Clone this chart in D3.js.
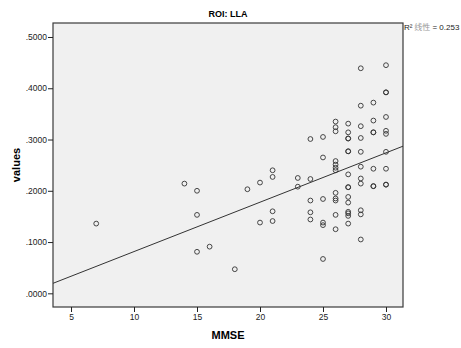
<!DOCTYPE html>
<html lang="zh">
<head>
    <meta charset="UTF-8">
    <title>ROI: LLA</title>
    <script src="https://cdn.jsdelivr.net/npm/d3@7/dist/d3.min.js"></script>
    <style>
        body { margin: 0; background: #fff; }
        text { font-family: "Liberation Sans", Arial, sans-serif; }
    </style>
</head>
<body>
    <div class="scatter"></div>
<script>
    // MMSE score of every subject, and its value (same order)
    const mmse = [
        7,
        14,
        15, 15, 15,
        16,
        18,
        19,
        20, 20,
        21, 21, 21, 21,
        23, 23,
        24, 24, 24, 24, 24,
        25, 25, 25, 25, 25, 25,
        26, 26, 26, 26, 26, 26, 26, 26, 26, 26, 26, 26,
        27, 27, 27, 27, 27, 27, 27, 27, 27, 27, 27, 27, 27, 27, 27,
        28, 28, 28, 28, 28, 28, 28, 28, 28, 28, 28,
        29, 29, 29, 29, 29, 29, 29,
        30, 30, 30, 30, 30, 30, 30, 30, 30, 30
    ]
    const values = [
        0.136,
        0.214,
        0.200, 0.153, 0.081,
        0.091,
        0.047,
        0.203,
        0.216, 0.138,
        0.240, 0.227, 0.160, 0.141,
        0.225, 0.208,
        0.301, 0.223, 0.181, 0.158, 0.144,
        0.305, 0.265, 0.184, 0.138, 0.133, 0.067,
        0.335, 0.324, 0.316, 0.258, 0.251, 0.245, 0.240, 0.196, 0.185, 0.181, 0.153, 0.125,
        0.331, 0.314, 0.302, 0.302, 0.277, 0.277, 0.232, 0.207, 0.207, 0.188, 0.177, 0.159, 0.156, 0.151, 0.136,
        0.439, 0.366, 0.326, 0.303, 0.276, 0.247, 0.224, 0.214, 0.162, 0.154, 0.105,
        0.372, 0.337, 0.314, 0.314, 0.243, 0.209, 0.209,
        0.445, 0.392, 0.392, 0.344, 0.317, 0.311, 0.276, 0.243, 0.212, 0.212
    ]
    const xTicks = [5, 10, 15, 20, 25, 30]
    const yTicks = [0, 0.1, 0.2, 0.3, 0.4, 0.5]
    // linear fit
    const fitIntercept = -0.0149
    const fitSlope = 0.00963
    const rSquared = 0.253

    const width = 461
    const height = 348
    const plot = { left: 53, right: 403, top: 23, bottom: 307 }

    const xScale = d3.scaleLinear().domain([3.57, 31.35]).range([plot.left, plot.right])
    const yScale = d3.scaleLinear().domain([-0.0267, 0.5273]).range([plot.bottom, plot.top])

    const svg = d3.select('.scatter')
        .append('svg')
        .attr('width', width)
        .attr('height', height)

    // plot background + frame
    svg.append('rect')
        .attr('x', plot.left)
        .attr('y', plot.top)
        .attr('width', plot.right - plot.left)
        .attr('height', plot.bottom - plot.top)
        .attr('fill', '#f0f0f0')
        .attr('stroke', '#3a3a3a')
        .attr('stroke-width', 1.2)

    // axes
    const fmtY = d => d3.format('.4f')(d).replace(/^0/, '')
    const gx = svg.append('g')
        .attr('transform', `translate(0, ${plot.bottom})`)
        .call(d3.axisBottom(xScale).tickValues(xTicks).tickSize(5).tickPadding(2))
    const gy = svg.append('g')
        .attr('transform', `translate(${plot.left}, 0)`)
        .call(d3.axisLeft(yScale).tickValues(yTicks).tickFormat(fmtY).tickSize(5).tickPadding(1))
    ;[gx, gy].forEach(g => {
        g.select('.domain').remove()
        g.selectAll('line').attr('stroke', '#222')
        g.selectAll('text')
            .attr('font-family', '"Liberation Sans", Arial, sans-serif')
            .attr('font-size', '8.5px')
            .attr('fill', '#222')
    })

    // fit line
    const xd = xScale.domain()
    const fitPts = xd.map(x => [x, fitIntercept + fitSlope * x])
    svg.append('path')
        .attr('d', d3.line().x(d => xScale(d[0])).y(d => yScale(d[1]))(fitPts))
        .attr('fill', 'none')
        .attr('stroke', '#333')
        .attr('stroke-width', 1)

    // points
    svg.selectAll('.pt')
        .data(mmse)
        .enter()
        .append('circle')
        .attr('class', 'pt')
        .attr('cx', d => xScale(d))
        .attr('cy', (d, i) => yScale(values[i]))
        .attr('r', 2.4)
        .attr('fill', 'none')
        .attr('stroke', '#333')
        .attr('stroke-width', 0.9)

    // labels
    svg.append('text')
        .attr('x', (plot.left + plot.right) / 2)
        .attr('y', 17)
        .attr('text-anchor', 'middle')
        .attr('font-weight', 'bold')
        .attr('font-size', '9px')
        .text('ROI: LLA')

    svg.append('text')
        .attr('x', (plot.left + plot.right) / 2)
        .attr('y', 339)
        .attr('text-anchor', 'middle')
        .attr('font-weight', 'bold')
        .attr('font-size', '11px')
        .text('MMSE')

    svg.append('text')
        .attr('transform', `translate(20, ${(plot.top + plot.bottom) / 2}) rotate(-90)`)
        .attr('text-anchor', 'middle')
        .attr('font-weight', 'bold')
        .attr('font-size', '11px')
        .text('values')

    const rLab = svg.append('text')
        .attr('x', plot.right + 1)
        .attr('y', 30)
        .attr('font-size', '8px')
        .attr('fill', '#222')
    rLab.append('tspan').text('R²')
    rLab.append('tspan').attr('fill', '#999').attr('font-family', '"Noto Sans CJK SC", sans-serif').text(' 线性')
    rLab.append('tspan').text(' = ' + rSquared.toFixed(3))
</script>
</body>
</html>
